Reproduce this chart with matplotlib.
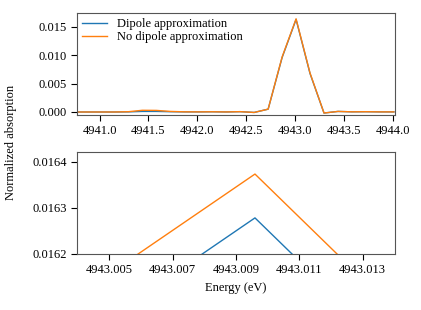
import numpy as np
import matplotlib
matplotlib.use("Agg")
import matplotlib.pyplot as plt

plt.rcParams['font.family'] = ['Liberation Serif', 'DejaVu Serif']
plt.rcParams['font.size'] = 9

# Energy grid (eV)
energy = [4940.724, 4940.867, 4941.010, 4941.153, 4941.295, 4941.438, 4941.581,
          4941.724, 4941.867, 4942.010, 4942.153, 4942.295, 4942.438, 4942.581,
          4942.724, 4942.867, 4943.0096, 4943.152, 4943.295, 4943.438, 4943.581,
          4943.724, 4943.867, 4944.0096]

dipole = [0.0, 0.0, 0.0, 0.0, 0.00002, 0.0001, 0.0001,
          0.00005, 0.00002, 0.00002, 0.00004, 0.00001, 0.00006, -0.00008,
          0.0005, 0.00958, 0.016278, 0.00677, -0.00018, 0.0001, 0.00003,
          0.00005, 0.00002, 0.00002]

no_dipole = [0.0, 0.0, 0.0, 0.0, 0.00005, 0.0003, 0.00028,
             0.0001, 0.00003, 0.00002, 0.00004, 0.00001, 0.00006, -0.00008,
             0.0005, 0.00968, 0.016373, 0.00686, -0.00018, 0.0001, 0.00003,
             0.00005, 0.00002, 0.00002]

top_xticks = [4941.0, 4941.5, 4942.0, 4942.5, 4943.0, 4943.5, 4944.0]
top_yticks = [0.000, 0.005, 0.010, 0.015]
bot_xticks = [4943.005, 4943.007, 4943.009, 4943.011, 4943.013]
bot_yticks = [0.0162, 0.0163, 0.0164]

fig = plt.figure(figsize=(4.21, 3.10), dpi=100)
ax1 = fig.add_axes([0.183, 0.629, 0.755, 0.329])
ax2 = fig.add_axes([0.183, 0.181, 0.755, 0.329])

for ax in (ax1, ax2):
    ax.plot(energy, dipole, color='#1f77b4', lw=1.0, label='Dipole approximation')
    ax.plot(energy, no_dipole, color='#ff7f0e', lw=1.0, label='No dipole approximation')
    for s in ax.spines.values():
        s.set_color('#555555')
    ax.tick_params(colors='black', length=4, width=0.8)

ax1.set_xlim(4940.77, 4944.02)
ax1.set_ylim(-0.00053, 0.0174)
ax1.set_xticks(top_xticks)
ax1.set_xticklabels([f"{t:.1f}" for t in top_xticks])
ax1.set_yticks(top_yticks)
ax1.set_yticklabels([f"{t:.3f}" for t in top_yticks])
ax1.legend(loc='upper left', frameon=False, borderaxespad=0.0, handletextpad=0.8,
           labelspacing=0.1)

ax2.set_xlim(4943.00398, 4943.01402)
ax2.set_ylim(0.0162, 0.016421)
ax2.set_xticks(bot_xticks)
ax2.set_xticklabels([f"{t:.3f}" for t in bot_xticks])
ax2.set_yticks(bot_yticks)
ax2.set_yticklabels([f"{t:.4f}" for t in bot_yticks])
ax2.set_xlabel('Energy (eV)', labelpad=4)

fig.text(0.025, 0.542, 'Normalized absorption', rotation=90, va='center', ha='center')

fig.savefig('out.png', dpi=100)
